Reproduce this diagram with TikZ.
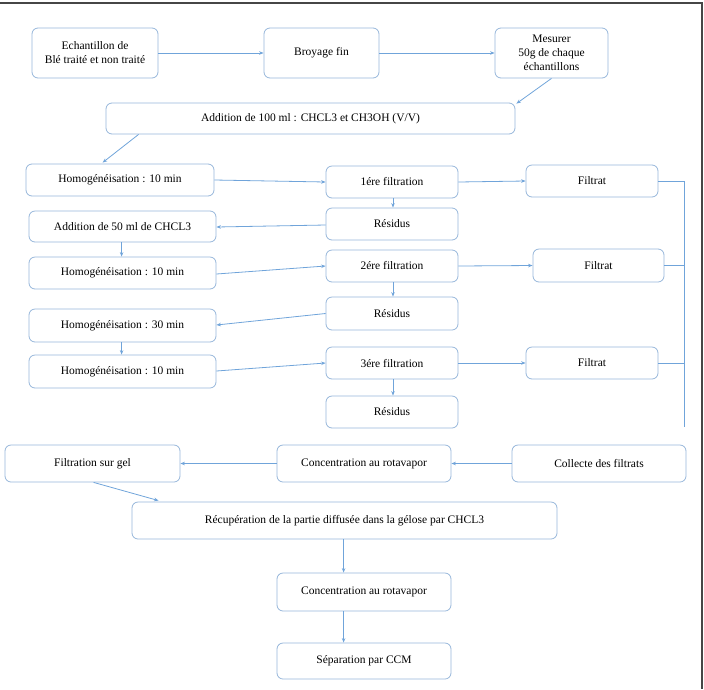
\documentclass[tikz,border=0pt]{standalone}
\usepackage{fontspec}
\setmainfont{Liberation Serif}
\newfontfamily\boxfont{Liberation Serif}
\usetikzlibrary{arrows.meta,calc}
\definecolor{boxc}{RGB}{150,182,218}
\definecolor{arrc}{RGB}{112,164,218}
\definecolor{framec}{RGB}{70,70,70}
\begin{document}
\begin{tikzpicture}[x=1pt,y=-1pt,
  box/.style={draw=boxc, line width=0.8pt, rounded corners=6pt, align=center, inner sep=0pt,
    font=\boxfont\fontsize{11.5}{14}\selectfont},
  arr/.style={draw=arrc, line width=0.8pt, -{Stealth[length=4.5pt,width=3.5pt]}},
  busline/.style={draw=arrc, line width=0.8pt}]
\useasboundingbox (0,0) rectangle (704,689);
\draw[framec, line width=2pt] (0,2.5) -- (702,2.5) -- (702,689);

% nodes
\node[box, minimum width=126pt, minimum height=50pt] (ech) at (95,53) {Echantillon de\\Blé traité et non traité};
\node[box, minimum width=115pt, minimum height=50pt] (broy) at (321.5,53) {Broyage fin};
\node[box, minimum width=113pt, minimum height=50pt] (mes) at (551.5,53) {Mesurer\\50g de chaque\\échantillons};
\node[box, minimum width=409pt, minimum height=31pt] (add100) at (310.5,118.5) {Addition de 100 ml : CHCL3 et CH3OH (V/V)};

\node[box, minimum width=188pt, minimum height=32pt] (homo1) at (120,180) {Homogénéisation : 10 min};
\node[box, minimum width=132pt, minimum height=32pt] (filt1) at (392,182) {1ére filtration};
\node[box, minimum width=132pt, minimum height=32pt] (fil1) at (592,181) {Filtrat};
\node[box, minimum width=132pt, minimum height=32pt] (res1) at (392,224) {Résidus};
\node[box, minimum width=187pt, minimum height=31pt] (add50) at (122.5,226.5) {Addition de 50 ml de CHCL3};

\node[box, minimum width=187pt, minimum height=32pt] (homo2) at (122.5,273) {Homogénéisation : 10 min};
\node[box, minimum width=132pt, minimum height=32pt] (filt2) at (392,266) {2ére filtration};
\node[box, minimum width=131pt, minimum height=33pt] (fil2) at (598.5,265.5) {Filtrat};
\node[box, minimum width=132pt, minimum height=33pt] (res2) at (392,313.5) {Résidus};
\node[box, minimum width=187pt, minimum height=33pt] (homo30) at (122.5,325.5) {Homogénéisation : 30 min};

\node[box, minimum width=187pt, minimum height=33pt] (homo3) at (122.5,371.5) {Homogénéisation : 10 min};
\node[box, minimum width=132pt, minimum height=32pt] (filt3) at (392,363) {3ére filtration};
\node[box, minimum width=132pt, minimum height=32pt] (fil3) at (592,363) {Filtrat};
\node[box, minimum width=132pt, minimum height=32pt] (res3) at (392,412) {Résidus};

\node[box, minimum width=175pt, minimum height=37pt] (gel) at (92.5,463.5) {Filtration sur gel};
\node[box, minimum width=174pt, minimum height=37pt] (conc1) at (364,463.5) {Concentration au rotavapor};
\node[box, minimum width=174pt, minimum height=37pt] (coll) at (599,463.5) {Collecte des filtrats};
\node[box, minimum width=425pt, minimum height=37pt] (recup) at (344.5,520.5) {Récupération de la partie diffusée dans la gélose par CHCL3};
\node[box, minimum width=174pt, minimum height=38pt] (conc2) at (364,592) {Concentration au rotavapor};
\node[box, minimum width=174pt, minimum height=36pt] (sep) at (364,661) {Séparation par CCM};

% bus coordinates
\coordinate (b1) at (684,181);
\coordinate (b2) at (684,265.5);
\coordinate (b3) at (684,363);
\coordinate (bend) at (684,427);

% connectors
\draw[arr] (ech.east) -- (broy.west);
\draw[arr] (broy.east) -- (mes.west);
\draw[arr] (mes.south) -- ($(add100.north east)+(1,1)$);
\draw[arr] ($(add100.south west)+(33,0)$) -- ($(homo1.north west)+(77,-1)$);

\draw[arr] (homo1.east) -- (filt1.west);
\draw[arr] (filt1.east) -- (fil1.west);
\draw[busline] (fil1.east) -- (b1);
\draw[arr] ($(filt1.south)+(1,0)$) -- ($(res1.north)+(1,0)$);
\draw[arr] ($(res1.west)+(0,1)$) -- ($(add50.east)+(0,0.5)$);
\draw[arr] ($(add50.south west)+(93,0)$) -- ($(homo2.north west)+(93,0)$);

\draw[arr] ($(homo2.east)+(0,1)$) -- (filt2.west);
\draw[arr] (filt2.east) -- (fil2.west);
\draw[busline] (fil2.east) -- (b2);
\draw[arr] ($(filt2.south)+(1,0)$) -- ($(res2.north)+(1,0)$);
\draw[arr] (res2.west) -- ($(homo30.east)+(0,-0.5)$);
\draw[arr] ($(homo30.south west)+(93,0)$) -- ($(homo3.north west)+(93,0)$);

\draw[arr] ($(homo3.east)+(0,-0.5)$) -- (filt3.west);
\draw[arr] (filt3.east) -- (fil3.west);
\draw[busline] (fil3.east) -- (b3);
\draw[arr] ($(filt3.south)+(1,0)$) -- ($(res3.north)+(1,0)$);
\draw[busline] (b1) -- (bend);

\draw[arr] (coll.west) -- (conc1.east);
\draw[arr] (conc1.west) -- (gel.east);
\draw[arr] ($(gel.south west)+(89,0)$) -- ($(recup.north west)+(27,-1)$);
\draw[arr] ($(recup.south west)+(212,0)$) -- ($(conc2.north west)+(67,0)$);
\draw[arr] ($(conc2.south west)+(67,0)$) -- ($(sep.north west)+(67,0)$);
\end{tikzpicture}
\end{document}
